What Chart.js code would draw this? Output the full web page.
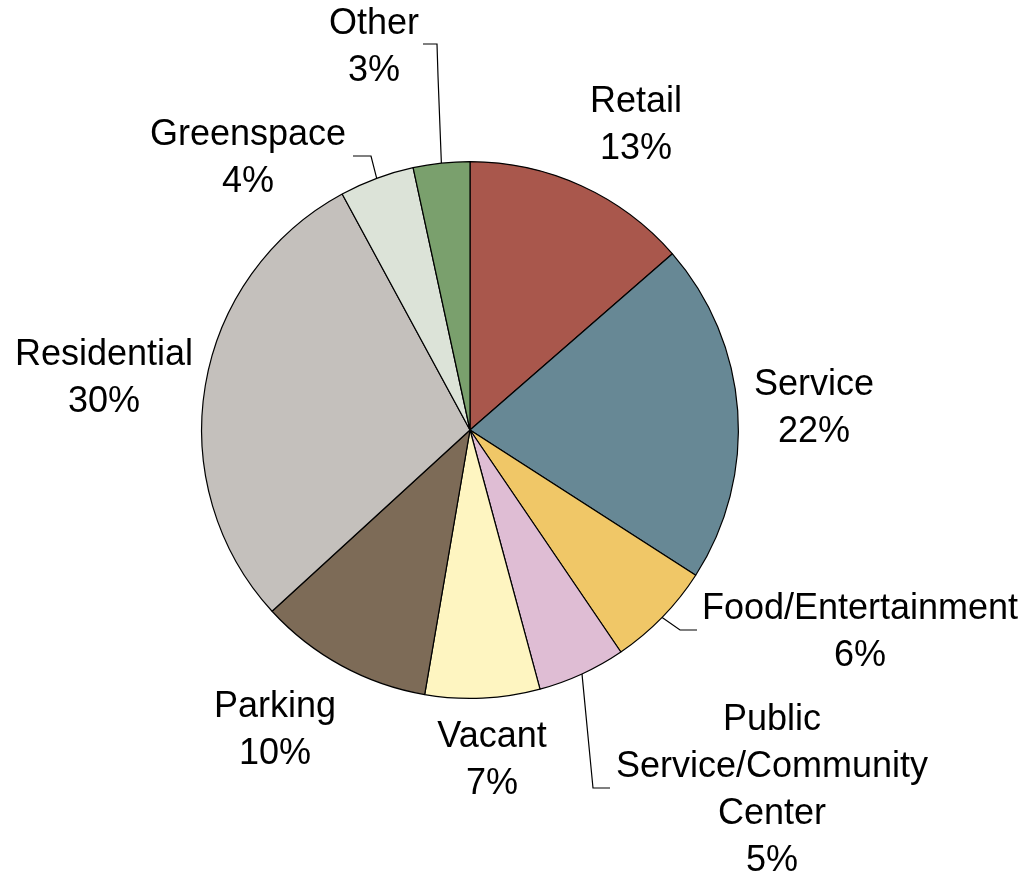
<!DOCTYPE html>
<html>
<head>
<meta charset="utf-8">
<script src="https://cdn.jsdelivr.net/npm/chart.js@4.4.1/dist/chart.umd.min.js"></script>
<style>
  html, body { margin: 0; padding: 0; background: #fff; }
  #wrap { width: 1023px; height: 872px; position: relative; }
</style>
</head>
<body>
<div id="wrap"><canvas id="landUse"></canvas></div>
<script>
// Land use shares, clockwise from 12 o'clock
const categories = ["Retail", "Service", "Food/Entertainment", "Public Service/Community Center",
  "Vacant", "Parking", "Residential", "Greenspace", "Other"];
// slice sizes
const shares = [13.6, 20.5, 6.4, 5.3, 6.9, 10.5, 28.9, 4.5, 3.4];
// percentages printed on the labels
const pctLabels = ["13%", "22%", "6%", "5%", "7%", "10%", "30%", "4%", "3%"];
const sliceColors = ["#A9574C", "#678895", "#F0C767", "#DFBDD4", "#FEF5C1",
  "#7D6B57", "#C4C0BC", "#DCE3D8", "#7AA06D"];

// label layout: text lines (category split) and where they sit
const labelLines = [
  ["Retail"], ["Service"], ["Food/Entertainment"], ["Public", "Service/Community", "Center"],
  ["Vacant"], ["Parking"], ["Residential"], ["Greenspace"], ["Other"]
];
const labelPos = [
  [636, 102], [814, 385], [860, 609], [772, 720],
  [492, 737], [275, 707], [104, 355], [248, 135], [374, 24]
];
const lineGap = 47;

// leader lines: elbow points from the slice edge to the text
const leaders = {
  2: [[680, 630], [697, 630]],
  3: [[593, 788], [610, 788]],
  7: [[371, 156], [353, 156]],
  8: [[438, 76], [437, 44], [423, 44]]
};

const labelPlugin = {
  id: "sliceLabels",
  afterDraw(chart) {
    const ctx = chart.ctx;
    const arcs = chart.getDatasetMeta(0).data;
    ctx.save();
    // leader lines
    ctx.strokeStyle = "#000";
    ctx.lineWidth = 1.2;
    Object.entries(leaders).forEach(([idx, pts]) => {
      const a = arcs[idx];
      const mid = (a.startAngle + a.endAngle) / 2;
      const x0 = a.x + Math.cos(mid) * a.outerRadius;
      const y0 = a.y + Math.sin(mid) * a.outerRadius;
      ctx.beginPath();
      ctx.moveTo(x0, y0);
      pts.forEach(([x, y]) => ctx.lineTo(x, y));
      ctx.stroke();
    });
    // text
    ctx.fillStyle = "#000";
    ctx.font = "36px 'Liberation Sans', Arial, sans-serif";
    ctx.textAlign = "center";
    ctx.textBaseline = "middle";
    labelLines.forEach((lines, i) => {
      const [x, y] = labelPos[i];
      const all = lines.concat([pctLabels[i]]);
      all.forEach((t, k) => ctx.fillText(t, x, y + k * lineGap));
    });
    ctx.restore();
  }
};

new Chart(document.getElementById("landUse"), {
  type: "pie",
  data: {
    labels: categories,
    datasets: [{
      data: shares,
      backgroundColor: sliceColors,
      borderColor: "#000",
      borderWidth: 1.2,
      hoverOffset: 0
    }]
  },
  options: {
    responsive: true,
    maintainAspectRatio: false,
    animation: false,
    layout: { padding: { left: 201, right: 284, top: 161, bottom: 173 } },
    plugins: {
      legend: { display: false },
      tooltip: { enabled: false }
    }
  },
  plugins: [labelPlugin]
});
</script>
</body>
</html>
